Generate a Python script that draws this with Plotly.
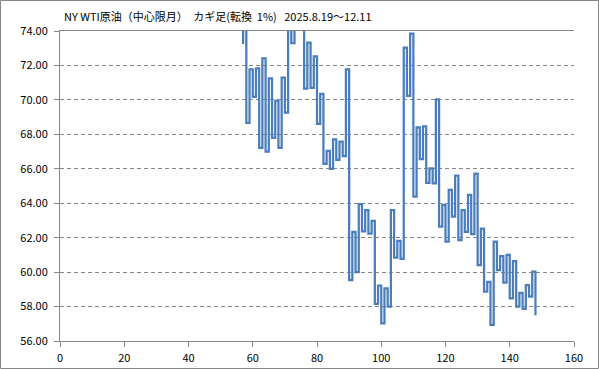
import plotly.graph_objects as go

# Kagi reversal levels (start point, then each turning level); x index of first vertical line
start_index = 57
reversal_levels = [
    73.25, 74.6, 68.67, 71.77, 70.18, 71.83, 67.22, 72.41, 66.99, 71.25,
    67.8, 69.95, 67.22, 71.29, 69.26, 74.8, 73.30, 75.4, 74.5, 75.2,
    70.65, 73.32, 70.70, 72.53, 68.61, 70.35, 66.29, 67.04, 66.00, 67.71,
    66.51, 67.57, 66.74, 71.77, 59.54, 62.34, 60.00, 63.95, 62.37, 63.60,
    62.23, 62.97, 58.15, 59.22, 57.03, 59.05, 58.00, 63.60, 60.84, 61.82,
    60.77, 73.03, 70.23, 73.85, 64.38, 68.41, 66.56, 68.46, 65.18, 66.03,
    65.15, 70.03, 62.64, 63.90, 61.77, 64.77, 63.22, 65.60, 61.86, 63.60,
    62.34, 64.48, 62.20, 65.72, 60.41, 62.52, 58.86, 59.44, 56.93, 61.77,
    60.12, 60.93, 59.39, 61.00, 58.48, 60.64, 57.99, 58.80, 57.86, 59.25,
    58.57, 60.03, 57.50,
]

x_ticks = [0, 20, 40, 60, 80, 100, 120, 140, 160]
y_ticks = [56, 58, 60, 62, 64, 66, 68, 70, 72, 74]
title_text = ("NY WTI原油（中心限月）\u3000カギ足(転換\u00a0\u00a01%)"
              "\u00a0\u00a0\u00a02025.8.19〜12.11")

# Build kagi path: vertical at each index, horizontal step at each reversal level
xs, ys = [], []
for i in range(len(reversal_levels) - 1):
    xi = start_index + i
    xs.append(xi)
    ys.append(reversal_levels[i])
    xs.append(xi)
    ys.append(reversal_levels[i + 1])

fig = go.Figure()
fig.add_trace(go.Scatter(
    x=xs, y=ys, mode="lines",
    line=dict(color="#4A7EBB", width=2.25),
    hoverinfo="skip", showlegend=False,
))

L, R, T, B = 60, 25, 31, 28
W, H = 599, 369
pw, ph = W - L - R, H - T - B

axis_color = "#868686"
font_family = "Noto Sans CJK JP, Noto Sans, sans-serif"

fig.update_layout(
    width=W, height=H,
    margin=dict(l=L, r=R, t=T, b=B, pad=0, autoexpand=False),
    paper_bgcolor="white", plot_bgcolor="white",
    font=dict(family=font_family, size=11, color="#000000"),
    xaxis=dict(
        range=[0, 160], tickvals=x_ticks, ticktext=[str(v) for v in x_ticks],
        showgrid=False, zeroline=False, automargin=False,
        showline=True, linecolor=axis_color, linewidth=1, mirror=True,
        ticks="outside", ticklen=5, tickcolor=axis_color, tickwidth=1,
        tickfont=dict(size=11, color="#000000"),
        ticklabelstandoff=2,
    ),
    yaxis=dict(
        range=[56, 74], tickvals=y_ticks, ticktext=[f"{v:.2f}" for v in y_ticks],
        showgrid=True, gridcolor=axis_color, gridwidth=1, griddash="4px,3px",
        zeroline=False, automargin=False,
        showline=True, linecolor=axis_color, linewidth=1,
        ticks="outside", ticklen=5, tickcolor=axis_color, tickwidth=1,
        tickfont=dict(size=11, color="#000000"),
        ticklabelstandoff=4,
    ),
    annotations=[dict(
        text=title_text, xref="paper", yref="paper", x=0, y=1,
        xanchor="left", yanchor="bottom", xshift=2, yshift=5,
        showarrow=False, font=dict(size=11, color="#000000", family=font_family),
    )],
    shapes=[dict(
        type="rect", xref="paper", yref="paper",
        x0=(-L + 0.5) / pw, x1=(W - L - 0.5) / pw,
        y0=(-B + 0.5) / ph, y1=(H - B - 0.5) / ph,
        line=dict(color=axis_color, width=1), fillcolor="rgba(0,0,0,0)",
        layer="below",
    )],
)

fig.write_html("out.html")
